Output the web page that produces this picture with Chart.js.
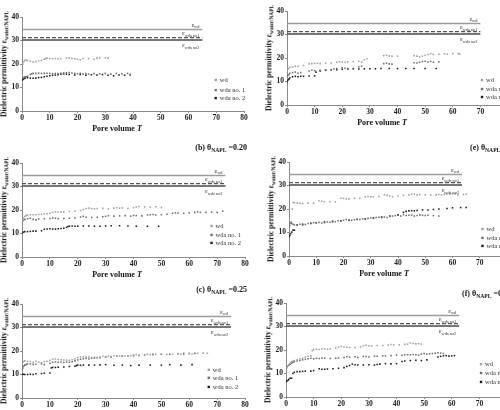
<!DOCTYPE html>
<html>
<head>
<meta charset="utf-8">
<script src="https://cdn.jsdelivr.net/npm/chart.js@4.4.1/dist/chart.umd.min.js"></script>
<style>
  html, body { margin: 0; padding: 0; width: 500px; height: 410px; overflow: hidden; background: #fff; }
  .panel { position: absolute; }
  .txt { position: absolute; font-family: "Liberation Serif", "Times New Roman", serif; font-weight: bold; color: #111; white-space: nowrap; line-height: 1; }
  .ytitle { font-size: 7.6px; transform: translate(-50%, -50%) rotate(-90deg); }
  .xtitle { font-size: 8px; transform: translate(-50%, -50%); }
  .ptitle { font-size: 8px; transform: translateY(-50%); }
  sub { font-size: 70%; vertical-align: -2px; }
</style>
</head>
<body>
<script>
/* ---- data: pore volume T vs dielectric permittivity ---- */
const seriesNames = ["wd", "wda no. 1", "wda no. 2"];
const refLevels = [34.7, 31.2, 30.2];
const refNames = ["wd", "wda no1", "wda no2"];
const xTicks = [0, 10, 20, 30, 40, 50, 60, 70, 80];
const yTicks = [0, 5, 10, 15, 20, 25, 30, 35, 40];

// (a)
const aWd = [[0.3,20],[0.6,21],[1,21.5],[1.5,21.7],[2,21.5],[3,21.2],[4,20.8],[5,21],[6,21.3],[7,21.5],[8,22],[8.5,22.3],[9,22.5],[10,22.3],[11,22.2],[12,22.3],[13,22.2],[14,22.2],[16,22.5],[17,22.6],[18,22.4],[19,22.2],[20,22],[21,21.8],[22,22.3],[24,22.3],[26,22],[27,22.5],[28,22.6],[30,22.6],[31,22.5]];
const aNo1 = [[0.3,14],[0.7,14.2],[1,14.5],[1.5,14.6],[2,14.8],[3,15.5],[3.5,15.8],[4,16],[5,16],[6,16.1],[7,16],[8,16],[9,16.1],[10,16],[11,15.9],[12,16],[13,15.9],[14,16],[15,16.2],[16,16.3],[17,16.4],[18,16.2],[19,16],[20,15.8],[21,16],[22,15.7],[23,15.9],[24,15.7],[26,15.9],[28,15.8],[30,16],[32,15.7],[34,16],[36,15.8],[38,16],[39,15.6]];
const aNo2 = [[0.2,13.3],[0.5,13.6],[0.8,13.8],[1.2,14],[2,14.2],[3,14],[4,13.9],[5,14],[6,14.2],[7,14.3],[8,14.6],[9,14.8],[10,15],[11,15.2],[12,15.3],[13,15.4],[14,15.6],[15,15.8],[16,15.7],[17,15.5],[19,15.3],[21,15.5],[23,15.2],[25,15.4],[27,15.3],[29,15.5],[31,15.2],[33,15],[35,15.3],[37,15.2],[39,15.4]];

// (b)
const bWd = [[0,15.5],[0.5,16.5],[1,17.2],[1.5,17.6],[2,17.8],[3,18],[4,18],[5,18],[6,18.1],[7,18.2],[8,18.4],[9,18.4],[10,18.6],[11,19],[12,19.2],[13,19.1],[14,19.2],[15,19.2],[17,19.4],[19,19.5],[21,19.8],[22,20.2],[23,20.6],[24,20.8],[25,20.6],[26,20.5],[27,20.6],[29,20.7],[31,20.5],[33,20.8],[34,21],[35,20.8],[36,20.9],[38,20.6],[40,21],[41,21.3],[42,21.5],[44,21.3],[46,21.2],[48,21.4],[50,21.1]];
const bNo1 = [[0,15.2],[0.5,15.6],[1,16],[2,16.3],[3,16.5],[4,16],[5,15.8],[6,16.2],[8,16.3],[10,16.4],[11,16.6],[12,16.5],[13,16.3],[15,16.4],[17,16.5],[19,16.6],[21,17],[22,17.3],[23,16.9],[25,16.8],[27,16.9],[29,17.1],[30,17.3],[31,17.6],[33,17.4],[35,17.5],[37,17.6],[39,17.4],[40,17.7],[41,17.6],[43,17.5],[45,17.9],[46,18],[47,18.1],[48,17.9],[50,18],[52,18.2],[54,18.6],[55,18.8],[56,18.7],[58,18.6],[60,18.8],[62,19],[63,19.2],[64,19],[66,19],[68,19.1],[70,19],[72,19.5]];
const bNo2 = [[0,10.2],[0.5,10.6],[1,10.8],[2,10.8],[3,10.9],[4,11],[5,11],[7,11.2],[8,11.8],[9,11.9],[10,12],[11,11.9],[12,11.9],[13,12],[14,12.1],[15,12.2],[16,12.6],[16.5,13],[17,13.1],[18,13.2],[19,13.1],[20,13.1],[22,13.2],[24,13.2],[26,13.1],[28,13.1],[30,13.2],[32,13.3],[35,13.3],[38,13.2],[41,13.1],[45,13.1],[49,13.1]];

// (c)
const cWd = [[0,14.5],[0.5,15.5],[1,15.8],[2,15.6],[3,15.5],[4,15.2],[5,15.6],[6,15.3],[7,15],[8,15.5],[9,15.6],[10,16],[11,16.5],[12,16.6],[13,16.4],[14,16.3],[15,16.2],[16,16.1],[17,16],[18,16.3],[19,16.6],[20,17.2],[21,17.5],[22,17.6],[23,17.4],[24,17.5],[25,17.2],[26,17.3],[27,17.1],[28,17.4],[29,17.8],[30,17.6],[31,17.8],[32,17.7],[33,18],[34,17.8],[35,17.9],[36,18],[37,17.9],[38,17.8],[39,18],[40,18.3],[41,18.5],[42,18.2],[44,18.4],[45,18.6],[46,18.5],[47,18.7],[48,18.6],[50,18.6],[52,18.5],[54,18.7],[56,18.8],[57,18.6],[58,18.5],[60,19],[61,18.7],[63,19],[65,19.1],[66.5,19]];
const cNo1 = [[0,12],[0.3,12.8],[0.6,13.5],[1,14],[1.5,14.2],[2,14.5],[3,14.5],[4,14.3],[5,14.4],[7,14.5],[8,14.2],[10,14.8],[11,15.2],[12,15.4],[13,15.2],[14,15.3],[15,15.1],[16,15.3],[17,15.2],[18,15.4],[19,15.8],[20,16.2],[21,16.5],[22,16.7],[23,16.8],[24,16.6],[25,16.9],[26,17],[27,17.2],[28,17.1],[30,17.4],[32,17.5],[34,17.8],[36,17.7],[38,17.9],[40,18],[42,18.1],[44,18.3],[47,18.4],[50,18.6],[53,18.6],[56,18.8],[58,19],[60,18.9],[62,19]];
const cNo2 = [[0,10],[0.5,10.1],[1,10],[2,10],[3,10.1],[4,10],[5,10.3],[7,10.4],[8,10.6],[10,10.6],[10.5,12.8],[11,13],[12,13],[13,13.1],[15,13.2],[17,13.4],[19,13.5],[19.5,13.8],[20,14],[21,13.9],[22,14],[24,14],[26,14],[28,14.1],[30,14.2],[33,13.9],[36,14],[39,13.8],[42,14],[46,14],[50,13.9],[53,14.2],[57,14],[61,14.2]];

// (d)
const dWd = [[0,14.5],[0.5,15.5],[1,16],[2,16.2],[3,16.5],[4,16.5],[6,16.8],[8,17.5],[9,17.6],[10,17.7],[11,17.8],[12,17.6],[14,17.8],[16,17.9],[18,18.2],[19,18.4],[20,18.3],[21,18.2],[22,18.4],[24,18.5],[26,18.6],[27,18.3],[28,19.2],[29,19.7],[35,21],[36,21.2],[37,20.9],[38,20.8],[40,20.8],[46,21],[47,20.8],[48,20.5],[49,20.8],[50,21.2],[51,21.5],[52,21.8],[53,21.5],[55,21.6],[57,21.8],[58,21.6],[60,21.9],[62,21.9],[62.5,21.7]];
const dNo1 = [[0.3,12.5],[0.7,13],[1,13.5],[2,13.8],[3,14],[4,13.5],[5,13.8],[8,14.5],[9,14.8],[10,14.6],[12,14.8],[14,15],[16,15],[17,15.3],[18,15.5],[20,15.8],[21,15.6],[22,15.5],[24,15.6],[26,16.3],[27,16.5],[35,17.6],[36,17.8],[37,17.5],[38,17.4],[46,18],[47,17.9],[48,18.2],[49,18.5],[50,18.6],[51,18.3],[52,18.5],[53,18.2],[55,18.4]];
const dNo2 = [[0,9.8],[0.3,10.5],[0.7,11],[1,11.5],[2,12],[3,12.2],[4,12],[5,12.2],[6,12.2],[8,12.3],[10,12.4],[10.5,14],[12,14.5],[14,14.8],[16,15],[18,15],[20,15.2],[22,15.3],[24,15.4],[26,15.3],[28,15.4],[30,15.4],[32,15.4],[34,15.5],[37,15.5],[40,15.5],[43,15.5],[46,15.5],[50,15.5],[54,15.5]];

// (e)
const eWd = [[1.2,20],[1.5,22.8],[2,22.6],[3,22.5],[4,22.4],[5,22.3],[7,22.5],[9,22.5],[11,23.5],[12,23.3],[13,23.1],[15,23.1],[17,23],[19,24.6],[20,24.5],[21,24.3],[22,24.3],[24,24.6],[26,24.6],[28,25.2],[29,25.3],[30,25.2],[31,25.1],[33,25.3],[35,26],[36,25.8],[37,25.5],[38,25.2],[40,25.5],[42,25.8],[44,26],[45,26.4],[46,26.3],[47,26],[48,26.2],[50,26],[52,25.9],[54,26],[55,26.2],[56,26],[57,26.2],[58,26.4],[59,26.3],[60,26.5],[61,26.4],[62,26],[64,26.2],[65,26.3]];
const eNo1 = [[0,12.2],[0.3,13],[0.5,14],[0.8,14.5],[1,13.8],[1.5,13.5],[2,13.2],[3,13.3],[4,13.5],[5,13.2],[6,13.4],[7,13.8],[8,14],[9,14.2],[10,14.2],[11,14.3],[12,14],[13,14.2],[14,14.5],[15,14.4],[16,14.5],[17,14.6],[18,15],[19,14.8],[20,15.2],[21,15.5],[22,15.3],[23,15.2],[24,15.4],[25,15.6],[26,15.5],[27,15.8],[28,15.6],[29,16],[30,16.2],[31,16],[32,16.4],[33,16.5],[34,16.3],[35,16.6],[36,16.4],[37,16.8],[38,17],[39,17.2],[40,17.3],[41,17],[42,17.6],[43,17.2],[44,17.3],[45,17.4],[46,17],[47,17.2],[48,17.5],[49,17.3],[50,17.2],[51,17.3],[53,17.2],[55,17]];
const eNo2 = [[0,8.2],[0.3,8.7],[0.6,9.5],[1,10.2],[1.5,11],[2,11],[3,13.2],[5,13.5],[8,13.8],[10,14.1],[13,14.5],[16,14.8],[19,15],[22,15.2],[25,15.5],[28,15.8],[31,16.2],[34,16.6],[37,17],[40,17.5],[42,18.6],[43,19],[44,19.2],[45,19.3],[46,19.2],[47,19.4],[49,19.6],[51,19.6],[53,19.8],[55,20],[58,20.2],[60,20.5],[63,20.6],[65,20.6]];

// (f)
const fWd = [[0,11.5],[0.3,12.5],[0.6,13.2],[1,13.8],[1.5,14.5],[2,15],[2.5,15.3],[3,15.5],[4,15.8],[5,16.2],[6,16.5],[7,17],[8,17.3],[9,17.5],[9.5,19.8],[10,20.2],[11,20.3],[12,20.2],[13,20.4],[14,20.5],[15,20.3],[16,20.4],[18,20.8],[19,21.2],[20,21.5],[21,21.3],[22,21.2],[23,21.1],[25,21.1],[27,21.3],[28,21.8],[29,22],[30,21.8],[31,21.7],[33,21.9],[35,21.9],[37,22.1],[38,22.3],[39,22.2],[41,22.2],[43,22.4],[44,22.5],[45,23],[46,22.8],[47,22.6],[48,22.7],[49,22.5]];
const fNo1 = [[0,12],[0.5,13],[1,13.5],[1.5,14],[2,14.4],[2.5,14.8],[3,15],[4,15.3],[5,15.5],[6,15.8],[7,16],[8,16.3],[9,16.5],[10,16.2],[11,16.5],[12,16.4],[13,16.6],[14,16.5],[16,16.4],[18,16.5],[19,16.6],[21,16.8],[22,17.2],[23,17],[25,17.1],[26,16.8],[28,17.3],[29,17.2],[30,17],[32,17.4],[33,17.3],[35,17.5],[36,17.5],[38,17.6],[40,17.8],[42,17.8],[43,18],[44,18],[45,17.9],[46,18.1],[47,18],[48,17.8],[49,18.3],[50,18.5],[51,18.2],[52,18.4],[53,18.5],[54,18.6],[55,18.8],[56,18.7],[57,18.5]];
const fNo2 = [[0,6.5],[0.3,6.8],[0.7,7],[1,7.5],[1.5,8],[2,8],[2.5,10],[3,10.5],[4,10.8],[5,10.8],[6,10.9],[7,11],[9,11],[10,11.2],[12,12],[13,11.8],[14,11.8],[15,11.9],[17,12],[19,12.2],[21,12.5],[22,13],[23,13.4],[24,14],[25,13.7],[26,13.6],[28,13.6],[30,13.7],[32,13.6],[33,13.8],[34,14],[36,14.2],[38,14.1],[40,14.2],[42,15.1],[43,15.3],[45,15.5],[47,15.6],[49,15.5],[51,15.8],[55,17],[56,17.3],[57,17.5],[58,17.6],[59,17.4],[60,17.5],[61,17.6]];

// reference line extents (pore volume) per panel
const refEnds = [65, 73, 75, 70, 63.5, 62.7];

/* ---- layout ---- */
const FONT = '"Liberation Serif", "Times New Roman", serif';
const SERIES_COLORS = ["#a0a0a0", "#6f6f6f", "#1c1c1c"];
const REF_STYLE = [
  { color: "#9c9c9c", width: 1.4, dash: [] },
  { color: "#555555", width: 1.2, dash: [4, 2] },
  { color: "#4a4a4a", width: 1.5, dash: [] },
];
// top pad must exceed half the tick label height so the plot top lands exactly on y40
const PAD_L = 22, PAD_T = 8, PAD_R = 8, PAD_B = 14, PLOT_H = 94;

const panels = [
  { x0: 22, y40: 17, w: 222, sets: [aWd, aNo1, aNo2], legX: 69.8, legY: [13.2, 8.9, 5.5], xTitle: true },
  { x0: 22, y40: 163, w: 223, sets: [bWd, bNo1, bNo2], legX: 68, legY: [13.2, 9.4, 6], xTitle: true, title: ["(b)", "0.20"], titleRight: 247, titleY: 149 },
  { x0: 22, y40: 304, w: 223, sets: [cWd, cNo1, cNo2], legX: 67, legY: [12, 8.6, 4.7], xTitle: false, title: ["(c)", "0.25"], titleRight: 247, titleY: 291 },
  { x0: 287, y40: 11, w: 221, sets: [dWd, dNo1, dNo2], legX: 70.6, legY: [10.6, 6.8, 3.4], xTitle: true },
  { x0: 289, y40: 162, w: 218, sets: [eWd, eNo1, eNo2], legX: 71, legY: [11.5, 7.7, 4.3], xTitle: true, title: ["(e)", "0.20"], titleLeft: 470, titleY: 149 },
  { x0: 286, y40: 303, w: 221, sets: [fWd, fNo1, fNo2], legX: 70.6, legY: [14, 10.2, 6.4], xTitle: false, title: ["(f)", "0.25"], titleLeft: 462, titleY: 295 },
];

// draws the epsilon labels of the reference lines and the small legend
const panelDecor = {
  id: "panelDecor",
  afterDatasetsDraw(chart, args, o) {
    const { ctx, scales: { x, y } } = chart;
    ctx.save();
    ctx.fillStyle = "#333";
    ctx.textBaseline = "alphabetic";
    refLevels.forEach((v, i) => {
      ctx.font = "6.5px " + FONT;
      const epsW = ctx.measureText("ε").width;
      ctx.font = "4.3px " + FONT;
      const subW = ctx.measureText(refNames[i]).width;
      const xr = x.getPixelForValue(o.end) - 3;
      const yb = y.getPixelForValue(v) + (i === 2 ? 7 : -2.5);
      ctx.font = "6.5px " + FONT;
      ctx.fillText("ε", xr - subW - epsW, yb);
      ctx.font = "4.3px " + FONT;
      ctx.fillText(refNames[i], xr - subW, yb + 1.5);
    });
    ctx.textBaseline = "middle";
    ctx.font = "6.5px " + FONT;
    seriesNames.forEach((name, i) => {
      const px = x.getPixelForValue(o.legX);
      const py = y.getPixelForValue(o.legY[i]);
      ctx.fillStyle = SERIES_COLORS[i];
      ctx.fillRect(px - 1.2, py - 1.2, 2.4, 2.4);
      ctx.fillStyle = "#333";
      ctx.fillText(name, px + 4, py + 0.5);
    });
    ctx.restore();
  },
};

function addText(cls, html, left, top, extra) {
  const el = document.createElement("div");
  el.className = "txt " + cls;
  el.innerHTML = html;
  el.style.left = left + "px";
  el.style.top = top + "px";
  if (extra) Object.assign(el.style, extra);
  document.body.appendChild(el);
  return el;
}

function makePanel(p, idx) {
  const cv = document.createElement("canvas");
  const W = PAD_L + p.w + PAD_R, H = PAD_T + PLOT_H + PAD_B;
  cv.width = W;
  cv.height = H;
  cv.className = "panel";
  cv.style.left = (p.x0 - PAD_L) + "px";
  cv.style.top = (p.y40 - PAD_T) + "px";
  cv.style.width = W + "px";
  cv.style.height = H + "px";
  document.body.appendChild(cv);

  const tickFont = { family: FONT, size: 7.5, weight: "bold" };
  const end = refEnds[idx];
  const datasets = refLevels.map((v, i) => ({
    type: "line",
    data: [{ x: 0, y: v }, { x: end, y: v }],
    borderColor: REF_STYLE[i].color,
    borderWidth: REF_STYLE[i].width,
    borderDash: REF_STYLE[i].dash,
    pointRadius: 0,
    fill: false,
  }));
  p.sets.forEach((pts, i) => {
    datasets.push({
      label: seriesNames[i],
      data: pts.map(([t, e]) => ({ x: t, y: e })),
      backgroundColor: SERIES_COLORS[i],
      borderColor: SERIES_COLORS[i],
      borderWidth: 0,
      pointRadius: 1.1,
      pointStyle: "rect",
    });
  });

  new Chart(cv, {
    type: "scatter",
    data: { datasets },
    options: {
      responsive: false,
      animation: false,
      events: [],
      layout: { padding: { top: PAD_T, right: PAD_R, left: 0, bottom: 0 } },
      plugins: {
        legend: { display: false },
        tooltip: { enabled: false },
        panelDecor: { end, legX: p.legX, legY: p.legY },
      },
      scales: {
        x: {
          type: "linear", min: xTicks[0], max: xTicks[xTicks.length - 1],
          afterBuildTicks: (s) => { s.ticks = xTicks.map((v) => ({ value: v })); },
          ticks: { font: tickFont, color: "#222", padding: 1, maxRotation: 0 },
          grid: { drawOnChartArea: false, tickLength: 2, color: "#8a8a8a" },
          border: { color: "#8a8a8a", width: 1 },
          afterFit: (s) => { s.height = PAD_B; },
        },
        y: {
          min: yTicks[0], max: yTicks[yTicks.length - 1],
          afterBuildTicks: (s) => { s.ticks = yTicks.map((v) => ({ value: v })); },
          ticks: { font: tickFont, color: "#222", padding: 1 },
          grid: { drawOnChartArea: false, tickLength: 2, color: "#8a8a8a" },
          border: { color: "#8a8a8a", width: 1 },
          afterFit: (s) => { s.width = PAD_L; },
        },
      },
    },
    plugins: [panelDecor],
  });

  // axis titles and panel label as real text
  const x0 = p.x0, y0 = p.y40 + PLOT_H;
  addText("ytitle", "Dielectric permittivity ε<sub>water/NAPL</sub>", x0 - 17, p.y40 + PLOT_H / 2);
  if (p.xTitle) addText("xtitle", "Pore volume <i>T</i>", x0 + 95, y0 + 18);
  if (p.title) {
    const html = p.title[0] + " θ<sub>NAPL</sub> =" + p.title[1];
    if (p.titleRight !== undefined) {
      addText("ptitle", html, 0, p.titleY, { left: "auto", right: (500 - p.titleRight) + "px" });
    } else {
      addText("ptitle", html, p.titleLeft, p.titleY);
    }
  }
}

panels.forEach(makePanel);
</script>
</body>
</html>
